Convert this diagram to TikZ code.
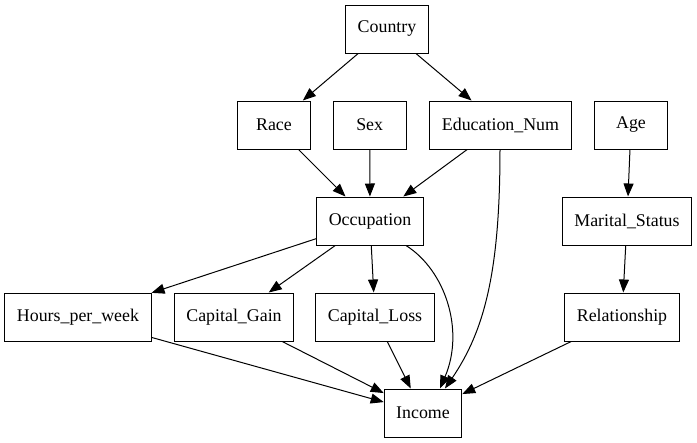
\documentclass[tikz,border=0pt]{standalone}
\usepackage{fontspec}
\setmainfont{Liberation Serif}
\usetikzlibrary{arrows.meta,calc}
\begin{document}
\begin{tikzpicture}[x=0.75pt,y=-0.75pt,
  box/.style={draw,line width=0.75pt,minimum width=54.5pt,minimum height=36pt,inner xsep=9pt,font=\fontsize{13.4}{16}\selectfont},
  arr/.style={draw,line width=0.75pt,-{Triangle[length=9.75pt,width=7.5pt]}}]
\useasboundingbox (0,0) rectangle (697,443);
\node[box] (country) at (387,29) {Country};
\node[box] (race) at (274,125) {Race};
\node[box] (sex) at (369.7,125) {Sex};
\node[box] (edu) at (500.5,125) {Education\_Num};
\node[box] (age) at (631,125) {Age};
\node[box] (occ) at (370,221) {Occupation};
\node[box] (mar) at (627,221) {Marital\_Status};
\node[box] (hours) at (78,317) {Hours\_per\_week};
\node[box] (gain) at (234,317) {Capital\_Gain};
\node[box] (loss) at (375,317) {Capital\_Loss};
\node[box] (rel) at (622,317) {Relationship};
\node[box] (inc) at (423,413) {Income};
\draw[arr] (country) -- (race);
\draw[arr] (country) -- (edu);
\draw[arr] (race) -- (occ);
\draw[arr] (sex) -- (occ);
\draw[arr] (edu) -- (occ);
\draw[arr] (age) -- (mar);
\draw[arr] (mar) -- (rel);
\draw[arr] (occ) -- (hours);
\draw[arr] (occ) -- (gain);
\draw[arr] (occ) -- (loss);
\draw[arr] ($(occ.south)+(36,0)$) .. controls (445,270) and (465,330) .. ($(inc.north)+(17,0)$);
\draw[arr] ($(edu.south)+(-0.5,0)$) .. controls (500,270) and (485,330) .. ($(inc.north)+(22,0)$);
\draw[arr] (hours) -- (inc);
\draw[arr] (gain) -- (inc);
\draw[arr] (loss) -- (inc);
\draw[arr] (rel) -- (inc);
\end{tikzpicture}
\end{document}
